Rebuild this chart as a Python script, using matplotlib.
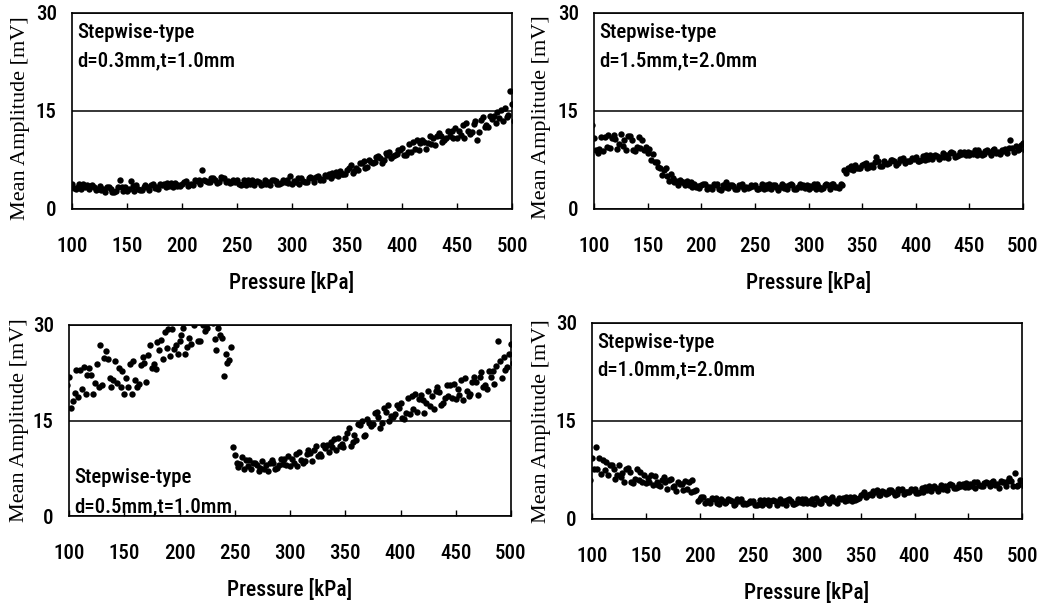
import numpy as np
import matplotlib
matplotlib.use("Agg")
import matplotlib.pyplot as plt
from matplotlib import font_manager as fm

# ---------------- fonts ----------------
_available = {f.name for f in fm.fontManager.ttflist}


def _pick(cands):
    for c in cands:
        if c in _available:
            return c
    return "DejaVu Sans"


SANS = _pick(["Liberation Sans Narrow", "Roboto Condensed", "Open Sans Condensed",
              "DejaVu Sans Condensed", "Liberation Sans"])
NARROW = SANS != "Liberation Sans"
SERIF = _pick(["Liberation Serif", "DejaVu Serif"])
SCALE = 1.0 if NARROW else 0.84

# ---------------- data ----------------
pressure = np.arange(100, 501, 5)          # kPa, measurement stations
run_shift = [0.0, 1.7, -1.7]               # small pressure offsets of the three runs

# d=0.3mm, t=1.0mm
amp_03_run1 = [3.8, 3.3, 3.8, 3.0, 3.4, 3.5, 2.6, 3.1, 2.8, 3.3,
               2.7, 3.5, 3.1, 3.4, 2.9, 3.2, 3.8, 3.3, 4.0, 3.5,
               3.9, 3.5, 3.7, 4.5, 4.5, 4.2, 4.5, 4.9, 4.1, 4.1,
               4.4, 3.8, 4.4, 3.7, 4.1, 4.4, 3.7, 4.3, 4.0, 4.5,
               3.9, 4.7, 4.3, 4.7, 4.2, 4.5, 5.2, 4.8, 5.7, 5.3,
               6.0, 5.5, 6.0, 7.3, 7.5, 7.2, 7.8, 8.5, 7.8, 8.4,
               9.4, 8.7, 10.2, 9.1, 10.2, 11.1, 9.8, 11.2, 10.9, 11.9,
               10.9, 12.9, 12.0, 13.0, 11.8, 12.6, 14.3, 13.1, 15.2, 14.1,
               16.0]
amp_03_run2 = [3.2, 3.9, 3.3, 3.5, 2.9, 2.9, 3.3, 2.6, 3.3, 2.8,
               3.1, 2.7, 2.9, 3.6, 3.6, 3.3, 3.6, 4.0, 3.3, 3.6,
               4.1, 3.7, 4.4, 3.8, 4.3, 4.7, 4.0, 4.7, 4.3, 4.5,
               3.8, 4.4, 3.9, 4.2, 3.6, 3.8, 4.4, 3.8, 4.5, 4.0,
               4.3, 3.9, 4.1, 4.9, 4.9, 4.6, 5.0, 5.5, 5.0, 5.4,
               6.3, 5.8, 7.0, 6.3, 7.2, 7.9, 7.0, 8.2, 8.1, 9.0,
               8.2, 9.9, 9.2, 10.1, 9.2, 9.9, 11.2, 10.2, 11.9, 10.9,
               11.9, 10.9, 11.5, 13.5, 13.6, 12.9, 13.8, 14.8, 13.5, 14.4,
               13.5]
amp_03_run3 = [3.6, 3.1, 3.1, 3.7, 3.6, 3.0, 3.1, 3.3, 2.6, 4.5,
               3.3, 4.3, 3.6, 2.9, 3.4, 3.8, 3.1, 3.8, 3.5, 4.0,
               3.5, 4.3, 3.9, 4.3, 6.0, 4.1, 4.7, 4.2, 4.8, 4.0,
               4.2, 3.6, 3.7, 4.4, 4.3, 3.9, 4.2, 4.5, 3.8, 4.1,
               5.0, 4.1, 4.8, 4.2, 4.7, 5.1, 4.5, 5.3, 5.2, 5.8,
               5.4, 6.7, 6.2, 7.0, 6.4, 7.0, 8.1, 7.5, 8.8, 8.2,
               9.0, 8.3, 8.8, 10.5, 10.6, 10.1, 10.8, 11.6, 10.5, 11.1,
               12.4, 11.4, 13.2, 11.8, 10.5, 14.1, 12.5, 14.3, 14.0, 15.4,
               18.0]

# d=1.5mm, t=2.0mm
amp_15_run1 = [10.9, 9.2, 11.0, 9.3, 10.7, 11.5, 9.0, 10.6, 9.5, 10.5,
               8.6, 8.4, 6.5, 5.9, 4.3, 4.2, 4.4, 3.6, 4.1, 3.4,
               3.6, 3.1, 3.1, 3.8, 3.6, 3.2, 3.5, 3.7, 3.1, 3.3,
               3.7, 3.2, 3.7, 3.1, 3.4, 3.8, 3.0, 3.6, 3.3, 3.7,
               3.1, 3.9, 3.3, 3.7, 3.1, 3.3, 3.9, 5.5, 6.6, 6.2,
               6.7, 6.3, 6.5, 7.3, 7.3, 7.0, 7.3, 7.7, 7.1, 7.4,
               7.9, 7.5, 8.2, 7.6, 8.1, 8.5, 7.8, 8.5, 8.3, 8.8,
               8.2, 9.0, 8.5, 8.9, 8.3, 8.6, 9.1, 8.6, 9.4, 9.1,
               10.1]
amp_15_run2 = [9.1, 11.0, 9.5, 10.8, 9.2, 9.7, 11.1, 9.1, 11.0, 9.0,
               9.2, 7.2, 6.2, 6.2, 5.4, 4.3, 4.2, 4.3, 3.4, 3.5,
               3.8, 3.3, 3.8, 3.1, 3.4, 3.7, 3.0, 3.5, 3.3, 3.7,
               3.1, 3.8, 3.2, 3.6, 2.9, 3.2, 3.7, 3.1, 3.8, 3.2,
               3.5, 3.1, 3.1, 3.9, 3.8, 3.4, 3.7, 6.2, 5.9, 6.3,
               6.9, 6.5, 7.2, 6.6, 7.1, 7.5, 6.8, 7.5, 7.3, 7.8,
               7.3, 8.1, 7.7, 8.1, 7.6, 7.9, 8.5, 8.0, 8.8, 8.3,
               8.6, 8.2, 8.3, 9.1, 9.0, 8.7, 8.9, 9.3, 8.7, 9.2,
               9.1]
amp_15_run3 = [12.8, 8.6, 8.9, 11.4, 11.3, 10.0, 10.5, 11.2, 8.9, 9.3,
               9.5, 7.5, 7.2, 5.2, 5.1, 4.8, 3.7, 4.1, 3.6, 3.9,
               3.2, 3.9, 3.3, 3.6, 2.9, 4.2, 3.7, 3.0, 3.8, 3.2,
               3.5, 3.0, 3.0, 3.8, 3.6, 3.3, 3.5, 3.8, 3.1, 3.3,
               3.7, 3.3, 3.8, 3.2, 3.6, 3.9, 3.2, 6.0, 6.1, 6.7,
               6.3, 7.1, 6.7, 8.0, 6.6, 6.9, 7.5, 7.0, 7.8, 7.3,
               7.7, 7.3, 7.5, 8.3, 8.3, 8.0, 8.3, 8.7, 8.1, 8.4,
               8.8, 8.4, 9.0, 8.4, 8.8, 9.2, 8.4, 9.2, 10.5, 9.6,
               9.8]

# d=0.5mm, t=1.0mm
amp_05_run1 = [21.8, 19.3, 22.9, 19.2, 22.1, 23.9, 20.6, 24.7, 21.4, 23.3,
               19.2, 23.9, 21.4, 23.7, 21.1, 23.3, 27.3, 24.7, 29.4, 26.3,
               27.5, 25.5, 27.0, 31.0, 31.0, 29.5, 30.3, 29.5, 22.0, 24.5,
               9.6, 8.1, 8.8, 7.4, 8.0, 8.6, 7.0, 8.4, 8.0, 9.0,
               7.9, 9.8, 8.8, 9.8, 8.6, 9.5, 11.2, 10.0, 12.1, 11.0,
               12.3, 11.0, 12.0, 15.0, 15.3, 14.5, 15.6, 17.0, 15.0, 16.0,
               17.8, 16.1, 18.8, 16.3, 18.2, 19.7, 16.8, 19.5, 18.6, 20.5,
               18.3, 21.4, 19.6, 21.1, 19.0, 20.2, 22.7, 20.8, 24.4, 23.0,
               27.0]
amp_05_run2 = [17.0, 22.9, 19.9, 22.2, 19.1, 20.3, 24.8, 21.7, 24.4, 20.3,
               21.6, 19.1, 20.2, 24.9, 25.3, 23.9, 26.1, 28.9, 25.2, 26.9,
               28.5, 26.5, 30.5, 27.5, 30.0, 32.0, 27.8, 28.5, 25.5, 26.5,
               8.4, 9.3, 7.8, 8.4, 7.0, 7.4, 8.4, 7.4, 9.0, 8.0,
               8.9, 7.8, 8.3, 10.3, 10.4, 9.8, 10.7, 11.7, 10.4, 11.3,
               13.0, 11.7, 14.4, 12.6, 14.6, 16.2, 13.8, 16.3, 15.7, 17.4,
               15.4, 18.5, 16.8, 18.3, 16.2, 17.3, 19.6, 17.5, 20.6, 18.5,
               19.9, 18.2, 18.8, 21.9, 21.8, 20.6, 21.9, 23.6, 21.6, 23.4,
               24.0]
amp_05_run3 = [20.6, 18.1, 18.7, 23.4, 23.3, 20.9, 26.8, 25.9, 20.2, 20.9,
               22.8, 20.3, 24.4, 20.7, 24.1, 26.9, 23.1, 27.7, 26.4, 29.3,
               25.5, 29.5, 28.0, 30.0, 27.5, 29.0, 31.3, 26.0, 28.0, 24.0,
               10.8, 7.7, 7.4, 8.8, 8.4, 7.6, 8.0, 8.8, 7.6, 8.2,
               9.4, 8.3, 10.0, 8.6, 9.9, 11.0, 9.4, 11.2, 10.9, 12.3,
               10.9, 13.8, 12.7, 14.3, 12.8, 14.1, 16.3, 14.6, 17.4, 15.6,
               17.0, 15.3, 16.0, 19.1, 19.0, 17.7, 18.8, 20.3, 17.8, 18.9,
               20.7, 19.0, 21.6, 19.1, 21.0, 22.6, 19.9, 22.8, 27.5, 25.0,
               25.5]

# d=1.0mm, t=2.0mm
amp_10_run1 = [9.4, 7.6, 9.0, 6.7, 7.6, 8.2, 5.6, 7.2, 6.1, 7.2,
               5.5, 6.8, 5.6, 6.0, 4.6, 4.9, 5.7, 4.4, 5.6, 4.3,
               3.1, 2.5, 2.5, 3.2, 3.0, 2.6, 2.7, 3.0, 2.3, 2.4,
               2.8, 2.3, 2.9, 2.2, 2.7, 3.0, 2.2, 2.8, 2.5, 3.0,
               2.4, 3.1, 2.7, 3.0, 2.4, 2.7, 3.2, 2.7, 3.4, 2.9,
               3.6, 3.4, 3.6, 4.4, 4.3, 4.0, 4.2, 4.6, 3.9, 4.2,
               4.6, 4.2, 4.9, 4.3, 4.8, 5.2, 4.5, 5.2, 4.9, 5.4,
               4.9, 5.6, 5.2, 5.5, 5.0, 5.2, 5.8, 5.1, 5.8, 5.1,
               5.8]
amp_10_run2 = [7.6, 9.4, 7.5, 8.2, 6.1, 6.4, 7.7, 5.7, 7.6, 5.7,
               6.3, 5.2, 5.2, 6.4, 6.0, 5.1, 5.3, 5.8, 4.2, 4.5,
               3.3, 2.7, 3.2, 2.5, 2.8, 3.1, 2.2, 2.8, 2.5, 2.8,
               2.2, 2.9, 2.4, 2.7, 2.2, 2.4, 2.9, 2.3, 3.0, 2.5,
               2.8, 2.3, 2.5, 3.2, 3.1, 2.8, 3.0, 3.4, 2.7, 3.0,
               3.8, 3.6, 4.3, 3.7, 4.1, 4.5, 3.7, 4.4, 4.1, 4.6,
               4.0, 4.8, 4.4, 4.8, 4.3, 4.6, 5.2, 4.7, 5.4, 4.9,
               5.3, 4.8, 5.0, 5.7, 5.7, 5.3, 5.6, 5.8, 5.1, 5.2,
               5.0]
amp_10_run3 = [6.0, 11.0, 6.9, 8.8, 8.2, 6.7, 7.1, 7.8, 5.5, 6.0,
               6.7, 5.6, 6.6, 5.0, 5.6, 6.1, 4.3, 5.4, 4.6, 5.9,
               2.7, 3.3, 2.7, 3.0, 2.3, 2.5, 2.9, 2.3, 3.0, 2.3,
               2.6, 2.1, 2.2, 2.9, 2.9, 2.5, 2.7, 3.0, 2.3, 2.6,
               3.0, 2.5, 3.2, 2.5, 2.9, 3.3, 2.5, 3.2, 2.9, 3.4,
               3.2, 4.2, 3.8, 4.2, 3.6, 3.9, 4.4, 3.9, 4.6, 4.1,
               4.4, 4.0, 4.2, 5.0, 5.0, 4.7, 5.0, 5.4, 4.7, 5.0,
               5.5, 5.0, 5.7, 5.0, 5.5, 5.8, 4.7, 5.6, 6.3, 7.0,
               6.0]

panel_labels = ["d=0.3mm,t=1.0mm", "d=1.5mm,t=2.0mm",
                "d=0.5mm,t=1.0mm", "d=1.0mm,t=2.0mm"]
type_label = "Stepwise-type"
x_ticks = [100, 150, 200, 250, 300, 350, 400, 450, 500]
y_ticks = [0, 15, 30]

# ---------------- figure ----------------
W, H = 1047, 603
fig = plt.figure(figsize=(W / 100, H / 100), dpi=100)


def frac(left, top, right, bottom):
    return [left / W, (H - bottom) / H, (right - left) / W, (bottom - top) / H]


panels = [
    dict(box=(72, 13, 512, 209), runs=(amp_03_run1, amp_03_run2, amp_03_run3),
         label=panel_labels[0], ty=(0.903, 0.755), ylab=(-0.118, 0.465)),
    dict(box=(594, 13, 1023, 209), runs=(amp_15_run1, amp_15_run2, amp_15_run3),
         label=panel_labels[1], ty=(0.903, 0.755), ylab=(-0.122, 0.467)),
    dict(box=(69, 325, 511, 516), runs=(amp_05_run1, amp_05_run2, amp_05_run3),
         label=panel_labels[2], ty=(0.199, 0.047), ylab=(-0.111, 0.5)),
    dict(box=(592, 323, 1022, 519), runs=(amp_10_run1, amp_10_run2, amp_10_run3),
         label=panel_labels[3], ty=(0.903, 0.760), ylab=(-0.117, 0.5)),
]

for p in panels:
    l, t, r, b = p["box"]
    ax = fig.add_axes(frac(l, t, r, b))
    hpx = b - t
    for shift, run in zip(run_shift, p["runs"]):
        ax.plot(pressure + shift, run, linestyle="none", marker="o",
                markersize=4.6, markeredgewidth=0, color="black")
    ax.set_xlim(100, 500)
    ax.set_ylim(0, 30)
    ax.set_xticks(x_ticks)
    ax.set_yticks(y_ticks)
    ax.grid(axis="y", color="black", linewidth=1.1)
    ax.set_axisbelow(True)
    for s in ax.spines.values():
        s.set_linewidth(1.2)
        s.set_color("black")
    ax.tick_params(axis="x", direction="in", length=4, width=1.0, pad=20,
                   labelsize=15 * SCALE)
    ax.tick_params(axis="y", length=0, pad=11, labelsize=15 * SCALE)
    for lab in ax.get_xticklabels() + ax.get_yticklabels():
        lab.set_fontfamily(SANS)
        lab.set_fontweight("medium")
    ax.set_xlabel("Pressure [kPa]", fontsize=15.5 * SCALE, family=SANS,
                  weight="medium", va="center")
    ax.xaxis.set_label_coords(0.5, -74 / hpx)
    ax.set_ylabel("Mean Amplitude [mV]", fontsize=16, family=SERIF, va="center")
    ax.yaxis.set_label_coords(*p["ylab"])
    xt = 5 / (r - l)
    ax.text(xt, p["ty"][0], type_label, transform=ax.transAxes, ha="left",
            va="center", fontsize=15 * SCALE, family=SANS, weight="medium")
    ax.text(xt, p["ty"][1], p["label"], transform=ax.transAxes, ha="left",
            va="center", fontsize=15 * SCALE, family=SANS, weight="medium")

fig.savefig("out.png", dpi=100)
